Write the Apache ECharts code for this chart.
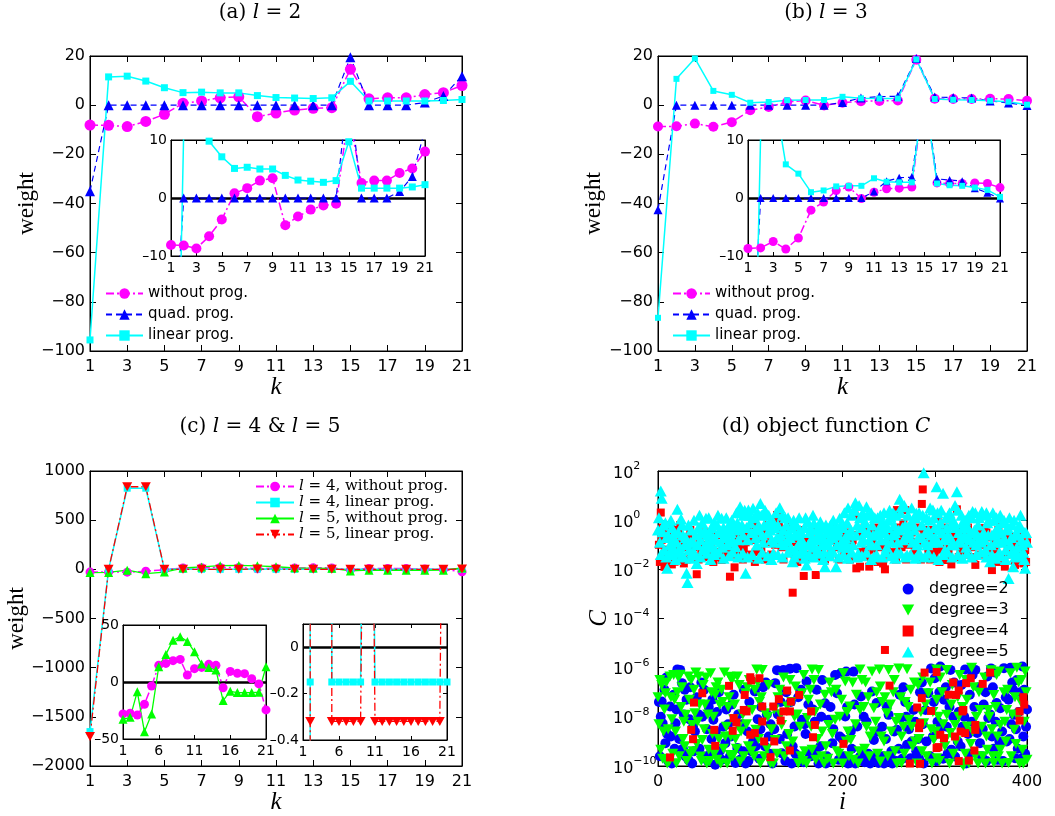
<!DOCTYPE html>
<html><head><meta charset="utf-8">
<script src="https://cdn.jsdelivr.net/npm/echarts@6/dist/echarts.min.js"></script>
<style>html,body{margin:0;padding:0;background:#fff}#c{width:1055px;height:816px}</style>
</head><body><div id="c"></div>
<script>
// ---------- data: panels (a)-(c), k = 1..21 ----------
const ks = [1,2,3,4,5,6,7,8,9,10,11,12,13,14,15,16,17,18,19,20,21];
const aWithout = [-8.1,-8.2,-8.7,-6.6,-3.7,0.8,1.7,3.0,3.4,-4.7,-3.2,-2.0,-1.3,-1.0,14.6,2.6,3.0,3.0,4.3,5.1,8.0];
const aQuad    = [-35,0,0,0,0,0,0,0,0,0,0,0,0,0,19.5,0,0,0,1.1,3.7,11.8];
const aLinear  = [-95.5,11.5,11.8,9.8,7.1,5.1,5.3,5.0,5.0,3.9,3.1,2.9,2.7,3.0,9.7,1.7,1.7,1.7,1.7,1.9,2.3];
const bWithout = [-8.7,-8.6,-7.5,-8.8,-6.9,-2.1,-0.7,1.3,1.9,-0.1,1.0,1.6,1.7,1.9,18.5,2.6,2.5,2.5,2.6,2.5,1.8];
const bQuad    = [-42.5,0,0,0,0,0,0,0,0,0,1.1,2.9,3.5,3.6,19.0,3.3,3.1,2.9,1.7,0.9,-0.1];
const bLinear  = [-86.5,10.7,19.0,5.8,4.2,1.0,1.3,2.0,2.1,2.1,3.4,2.8,2.7,2.7,18.6,2.5,2.2,2.1,1.8,1.4,0.2];
const cL4Without = [-28,-27.4,-29,-19.5,-3.5,14.6,16.3,18.7,19.8,6.1,11.7,12.8,15.5,14.6,-5,9.3,7.6,7.3,2.9,-1.7,-24.5];
const cL4Linear  = [-1650,-0.15,825,825,-0.15,-0.15,-0.15,-0.15,-0.15,3,-0.15,-0.15,-0.15,-0.15,-0.15,-0.15,-0.15,-0.15,-0.15,-0.15,-0.15];
const cL5Without = [-32.7,-31,-8.5,-43.7,-28,13.4,24.2,36.7,39.7,35.6,26.5,15.7,12.8,10.5,-16.3,-8.2,-9.3,-9.3,-9.3,-9,13.4];
const cL5Linear  = [-1700,-0.32,840,840,-0.32,-0.32,-0.32,-0.32,-0.32,3,-0.32,-0.32,-0.32,-0.32,-0.32,-0.32,-0.32,-0.32,-0.32,-0.32,3];

// ---------- data: panel (d), pairs [i, log10 C] ----------
const deg2LogC = [[1,-7.4],[2,-9.6],[3,-8.0],[4,-7.38],[5,-8.26],[7,-6.9],[8,-9.07],[9,-6.4],[10,-8.7],[11,-9.8],[13,-7.58],[14,-8.8],[15,-9.9],[17,-7.1],[18,-9.3],[19,-8.26],[20,-7.7],[21,-6.07],[23,-8.9],[24,-6.09],[26,-6.63],[27,-9.3],[28,-7.9],[29,-6.9],[30,-9.61],[31,-7.3],[33,-9.75],[34,-8.1],[35,-6.8],[37,-9.9],[38,-8.4],[39,-9.4],[40,-8.6],[42,-7.2],[44,-7.9],[45,-9.3],[47,-6.6],[48,-8.0],[50,-6.9],[51,-9.61],[53,-8.5],[54,-9.8],[55,-7.6],[57,-9.5],[58,-8.9],[59,-7.3],[60,-8.12],[62,-9.95],[63,-8.6],[64,-7.8],[66,-7.0],[67,-9.4],[69,-9.75],[71,-8.4],[73,-9.07],[74,-7.7],[76,-8.3],[78,-9.6],[79,-8.8],[80,-7.5],[82,-7.1],[84,-9.88],[86,-9.27],[87,-7.9],[89,-9.75],[91,-8.3],[92,-9.4],[93,-6.9],[95,-9.9],[97,-8.6],[98,-9.8],[99,-7.4],[101,-9.4],[103,-9.0],[105,-6.97],[106,-9.2],[108,-8.1],[110,-9.7],[111,-8.5],[112,-7.6],[114,-6.8],[116,-9.2],[117,-6.6],[118,-7.9],[120,-8.8],[121,-9.5],[122,-8.3],[124,-9.9],[126,-8.5],[127,-6.63],[129,-6.1],[130,-7.9],[132,-8.9],[133,-7.4],[134,-9.48],[136,-6.09],[138,-9.8],[139,-7.0],[140,-8.7],[143,-6.04],[144,-7.4],[145,-9.9],[146,-9.2],[148,-8.39],[149,-9.5],[150,-6.02],[152,-7.2],[153,-9.7],[155,-6.9],[156,-8.12],[158,-9.85],[159,-8.3],[160,-8.7],[161,-6.56],[163,-7.5],[164,-9.48],[166,-9.6],[168,-7.7],[170,-8.2],[171,-9.4],[172,-6.9],[174,-9.9],[176,-9.2],[177,-8.0],[178,-6.5],[181,-7.45],[182,-9.9],[183,-9.6],[185,-8.12],[187,-7.6],[189,-9.07],[190,-8.5],[192,-6.3],[194,-7.04],[196,-9.75],[197,-8.8],[198,-6.23],[200,-8.9],[201,-9.6],[203,-7.99],[204,-6.16],[205,-7.6],[206,-9.9],[208,-9.88],[209,-8.6],[210,-9.3],[212,-6.16],[213,-7.5],[214,-9.9],[216,-8.39],[217,-9.8],[219,-9.61],[220,-7.17],[222,-9.5],[223,-8.0],[224,-9.85],[226,-8.2],[227,-9.75],[228,-9.5],[230,-9.9],[232,-6.97],[233,-9.8],[234,-8.94],[236,-9.6],[237,-7.44],[238,-8.6],[239,-9.88],[241,-9.75],[243,-8.4],[244,-9.6],[245,-9.9],[247,-8.9],[248,-7.58],[250,-7.92],[252,-9.61],[253,-9.4],[254,-9.9],[256,-8.6],[258,-9.8],[259,-8.53],[261,-9.3],[262,-7.1],[263,-8.05],[265,-9.7],[266,-6.8],[268,-7.4],[269,-8.0],[270,-9.14],[272,-8.5],[274,-9.68],[275,-9.0],[277,-7.72],[279,-8.2],[280,-9.4],[282,-8.9],[283,-9.7],[284,-7.0],[286,-6.6],[287,-8.3],[288,-9.9],[290,-7.72],[291,-9.0],[293,-7.04],[295,-9.6],[296,-6.03],[298,-8.8],[299,-7.4],[300,-6.43],[302,-9.8],[303,-8.2],[305,-7.0],[306,-5.95],[307,-8.39],[309,-9.7],[310,-7.3],[312,-6.8],[313,-8.4],[314,-9.5],[316,-7.6],[317,-6.09],[318,-9.34],[320,-8.0],[321,-6.6],[322,-9.61],[325,-9.0],[326,-7.8],[328,-9.2],[329,-6.7],[330,-8.4],[332,-8.0],[333,-6.07],[334,-9.9],[336,-8.7],[337,-9.5],[338,-7.1],[340,-8.2],[341,-6.3],[343,-7.6],[344,-6.09],[346,-8.66],[348,-6.8],[349,-9.07],[351,-9.6],[352,-8.5],[353,-7.5],[355,-7.0],[356,-9.8],[357,-6.36],[358,-8.05],[360,-7.9],[361,-6.03],[362,-8.8],[363,-6.8],[364,-9.3],[365,-6.2],[366,-8.2],[367,-7.44],[368,-9.75],[370,-9.0],[371,-7.65],[373,-8.6],[374,-9.8],[375,-6.02],[377,-7.2],[378,-9.0],[380,-7.3],[381,-8.9],[382,-6.0],[383,-8.3],[384,-6.6],[385,-6.9],[386,-7.92],[387,-9.68],[388,-8.5],[389,-6.5],[390,-9.3],[391,-7.8],[393,-7.0],[394,-9.7],[395,-5.95],[396,-8.8],[397,-6.9],[398,-9.5],[399,-8.4],[400,-7.7]];
const deg3LogC = [[0,-7.2],[1,-8.3],[2,-6.5],[3,-9.34],[4,-6.7],[5,-9.7],[6,-8.6],[7,-7.7],[8,-7.04],[9,-6.6],[10,-9.9],[11,-8.5],[12,-9.82],[13,-6.36],[14,-7.2],[15,-8.1],[16,-9.5],[17,-6.3],[18,-7.31],[19,-8.6],[20,-9.89],[21,-7.0],[22,-6.4],[23,-9.6],[24,-6.29],[25,-7.6],[26,-6.8],[27,-8.9],[28,-8.2],[29,-9.2],[30,-7.92],[31,-9.8],[33,-6.36],[34,-7.3],[35,-9.5],[36,-6.5],[37,-8.33],[38,-9.4],[39,-6.9],[40,-7.85],[41,-6.2],[42,-9.1],[43,-8.2],[44,-6.36],[45,-7.5],[46,-9.61],[47,-9.8],[48,-8.94],[49,-6.7],[50,-8.5],[51,-7.5],[52,-6.4],[53,-9.9],[54,-7.9],[55,-9.34],[56,-9.8],[57,-6.23],[58,-7.0],[59,-8.7],[60,-8.0],[61,-9.5],[62,-7.1],[63,-6.8],[64,-9.75],[65,-6.6],[66,-8.9],[67,-7.51],[68,-9.9],[69,-6.9],[70,-7.4],[71,-9.3],[72,-6.2],[73,-8.8],[74,-8.4],[75,-9.9],[76,-7.6],[77,-7.2],[78,-9.55],[78,-6.37],[79,-8.8],[80,-6.5],[81,-9.6],[82,-8.1],[83,-7.5],[84,-8.9],[85,-9.3],[86,-6.36],[87,-8.39],[88,-6.7],[89,-9.82],[90,-8.6],[92,-7.9],[93,-9.6],[95,-7.04],[96,-8.3],[97,-6.8],[98,-9.2],[99,-6.5],[101,-9.4],[102,-7.72],[104,-9.6],[105,-6.9],[106,-8.53],[107,-6.07],[108,-6.6],[109,-8.9],[110,-7.4],[111,-9.89],[112,-7.2],[113,-6.09],[115,-9.6],[116,-7.85],[118,-9.3],[119,-8.0],[120,-6.7],[122,-9.9],[123,-8.5],[125,-9.9],[126,-7.7],[127,-8.94],[129,-9.5],[130,-7.2],[132,-6.9],[133,-7.9],[134,-8.33],[136,-6.4],[137,-9.6],[139,-9.2],[140,-7.58],[142,-8.7],[143,-6.5],[145,-7.4],[146,-9.0],[148,-8.0],[149,-6.77],[151,-7.9],[152,-9.89],[154,-8.4],[155,-9.6],[156,-7.04],[157,-9.8],[158,-6.3],[159,-9.4],[161,-9.9],[162,-8.05],[163,-7.3],[165,-6.9],[166,-8.4],[167,-6.07],[167,-9.34],[169,-6.5],[170,-7.8],[171,-9.75],[173,-8.9],[174,-6.09],[176,-7.5],[177,-9.6],[178,-8.6],[180,-9.9],[181,-7.1],[182,-9.2],[184,-9.7],[185,-8.33],[186,-6.6],[188,-7.0],[189,-8.7],[190,-9.9],[192,-8.12],[193,-6.9],[194,-9.4],[196,-9.5],[197,-8.0],[199,-7.31],[200,-9.9],[201,-6.23],[203,-6.56],[204,-9.0],[205,-7.8],[206,-8.6],[207,-9.6],[208,-7.58],[209,-8.94],[211,-6.6],[212,-9.75],[214,-8.3],[215,-7.1],[217,-9.9],[218,-9.4],[219,-7.72],[219,-6.07],[221,-6.5],[223,-7.6],[224,-9.3],[225,-6.6],[226,-8.4],[228,-7.2],[229,-9.6],[230,-8.8],[232,-6.16],[233,-8.6],[234,-7.65],[236,-8.2],[237,-7.0],[238,-9.5],[240,-6.07],[241,-6.77],[241,-9.82],[242,-8.8],[243,-7.4],[245,-9.0],[246,-7.2],[248,-7.85],[249,-9.6],[250,-6.09],[252,-7.5],[253,-8.6],[255,-7.0],[256,-6.5],[257,-9.4],[258,-8.2],[259,-9.9],[261,-6.03],[261,-8.05],[263,-7.2],[264,-8.8],[264,-9.88],[266,-8.4],[267,-9.5],[268,-7.4],[270,-6.06],[271,-7.6],[272,-8.12],[274,-6.9],[275,-8.4],[276,-9.2],[278,-6.6],[279,-9.0],[281,-9.9],[282,-6.7],[283,-8.9],[285,-7.8],[286,-9.4],[287,-6.4],[288,-8.26],[290,-7.5],[291,-9.6],[293,-7.04],[295,-6.6],[296,-8.5],[297,-9.9],[298,-7.8],[299,-8.94],[301,-8.6],[302,-7.31],[302,-6.07],[302,-9.68],[304,-8.0],[305,-9.8],[306,-6.4],[308,-7.0],[309,-8.3],[311,-9.2],[312,-8.9],[313,-6.09],[313,-7.92],[316,-9.9],[317,-8.66],[318,-7.5],[319,-6.7],[320,-9.5],[322,-8.33],[323,-9.0],[325,-7.2],[326,-8.0],[327,-6.3],[329,-9.9],[330,-7.6],[331,-10.0],[333,-9.5],[334,-6.5],[335,-7.31],[335,-8.39],[337,-9.9],[339,-9.1],[340,-6.0],[341,-8.6],[342,-6.8],[344,-9.6],[345,-8.0],[347,-9.9],[348,-7.0],[349,-7.72],[351,-8.4],[352,-9.6],[354,-6.4],[355,-9.9],[356,-8.8],[357,-9.34],[358,-7.72],[359,-8.0],[361,-6.1],[362,-8.5],[363,-9.6],[364,-7.11],[364,-9.88],[366,-7.6],[367,-6.3],[368,-8.8],[369,-9.6],[370,-6.16],[371,-8.33],[371,-9.34],[373,-9.9],[375,-7.0],[376,-8.2],[377,-9.0],[378,-7.72],[379,-6.9],[380,-9.88],[382,-6.23],[383,-9.6],[384,-7.9],[386,-8.53],[387,-7.2],[388,-9.1],[389,-6.0],[390,-8.0],[391,-6.6],[392,-9.9],[393,-7.38],[394,-6.5],[395,-9.34],[396,-9.9],[397,-8.2],[398,-6.16],[399,-7.0],[400,-9.75]];
const deg4LowLogC = [[13,-9.65],[36,-8.53],[38,-8.91],[39,-7.42],[48,-7.04],[61,-8.53],[62,-9.18],[77,-6.74],[81,-8.57],[82,-8.05],[85,-8.23],[93,-7.72],[94,-7.11],[96,-7.78],[100,-6.39],[100,-8.73],[101,-6.52],[105,-8.66],[110,-6.43],[113,-8.19],[113,-7.58],[115,-9.0],[122,-9.64],[125,-7.58],[126,-9.0],[131,-7.28],[133,-8.15],[136,-7.78],[140,-6.93],[143,-9.37],[143,-7.78],[144,-7.38],[153,-7.11],[166,-7.78],[168,-8.83],[170,-8.33],[201,-9.1],[246,-5.28],[251,-6.73],[273,-9.9],[281,-7.62],[283,-8.46],[284,-8.26],[284,-9.91],[286,-7.24],[289,-6.2],[296,-7.76],[302,-6.18],[302,-9.27],[304,-9.23],[306,-8.73],[310,-8.87],[315,-7.1],[320,-6.6],[322,-8.8],[323,-7.11],[326,-6.93],[326,-9.8],[328,-8.6],[330,-7.78],[331,-7.72],[333,-8.66],[334,-6.63],[337,-9.78],[339,-6.43],[343,-9.37],[344,-8.33],[344,-8.53],[352,-6.66],[360,-6.2],[392,-7.78],[392,-8.15],[396,-7.2],[397,-7.5]];
const deg4HighLogC = [[1,-1.0],[2,-1.7],[3,0.31],[4,-0.8],[5,-0.3],[6,-1.62],[7,-1.9],[8,-1.2],[9,-1.5],[10,-0.6],[11,-0.2],[12,-1.69],[14,-0.3],[15,-1.8],[16,-1.4],[18,-1.69],[19,-1.2],[20,-0.9],[22,-0.4],[24,-0.2],[25,-1.5],[27,-1.0],[28,-1.76],[30,-1.1],[31,-1.6],[33,-0.7],[35,-0.4],[36,-1.3],[38,-1.1],[40,-1.55],[42,-2.2],[44,-1.6],[45,-0.9],[47,-1.3],[49,-1.46],[51,-1.0],[52,-0.5],[54,-1.5],[55,-1.1],[57,-0.9],[58,-1.46],[60,-1.7],[61,-0.8],[63,-0.6],[64,-1.3],[66,-1.5],[67,-0.6],[69,-1.62],[70,-1.21],[72,-1.3],[73,-0.9],[75,-0.4],[76,-1.35],[78,-2.3],[79,-1.1],[80,-1.0],[83,-1.92],[85,-1.4],[86,-0.7],[88,-1.0],[90,-0.35],[92,-1.6],[93,-1.1],[95,-0.9],[96,-0.5],[98,-1.4],[100,-0.67],[102,-0.8],[103,-0.2],[105,-1.7],[106,-1.3],[108,-0.5],[110,-0.75],[112,-1.2],[114,-0.4],[116,-1.6],[118,-1.48],[120,-0.2],[121,-0.9],[123,-1.4],[125,-0.3],[127,-1.0],[129,0.21],[131,-0.1],[133,-0.4],[134,-1.1],[136,-1.6],[137,-0.5],[139,-1.0],[140,-0.67],[142,-0.2],[143,-1.3],[146,-2.95],[148,-1.4],[149,-0.9],[151,-1.7],[152,-0.4],[154,-0.7],[155,-1.2],[157,-1.0],[158,-2.27],[160,-1.5],[162,-0.8],[164,-0.9],[166,-1.4],[168,-0.3],[171,-2.23],[173,-1.5],[174,-0.6],[177,-0.9],[178,-1.2],[181,-1.6],[182,-0.9],[184,-0.6],[186,-1.5],[188,-1.3],[190,-0.26],[192,-0.8],[194,-1.1],[196,-1.6],[198,-0.7],[200,-0.5],[202,-1.3],[204,-1.0],[206,-0.5],[208,-1.6],[210,-1.0],[211,-0.8],[213,0.2],[215,-1.96],[217,-0.6],[219,-1.89],[220,-1.3],[222,-0.4],[224,-0.3],[225,-1.2],[227,-1.5],[229,-1.89],[231,-0.5],[232,-0.8],[234,-1.2],[236,-0.3],[238,-1.7],[240,-1.1],[242,-0.5],[244,-1.76],[246,-2.0],[248,-1.01],[250,-1.4],[252,-0.5],[254,-0.9],[256,-1.3],[258,-1.6],[259,0.41],[261,-0.3],[262,-0.7],[264,-1.1],[266,-0.13],[268,0.41],[269,-1.6],[271,-1.0],[273,-0.8],[275,-0.5],[277,-1.4],[279,-1.2],[281,-0.9],[282,-0.3],[284,-0.94],[285,-1.6],[286,0.66],[287,1.25],[288,-0.4],[290,-0.8],[292,-1.0],[293,-1.3],[295,-1.6],[296,-0.4],[298,-0.7],[300,-1.35],[302,-1.1],[303,0.1],[305,-1.7],[306,-0.9],[308,-1.2],[309,-0.5],[311,-0.3],[313,-1.62],[315,-1.3],[316,-1.0],[318,-1.8],[320,-0.6],[322,-0.9],[324,0.44],[326,-1.5],[328,-1.2],[330,-0.4],[332,-0.8],[334,-1.4],[336,-0.3],[338,-0.7],[340,-1.1],[342,-1.5],[344,-1.82],[346,-0.9],[347,-0.5],[349,-1.4],[351,-0.33],[353,-1.0],[354,-0.33],[356,-0.5],[357,-1.3],[359,-1.5],[360,-0.7],[362,-2.03],[364,-1.2],[366,-1.0],[368,-1.7],[369,-0.4],[371,-1.62],[372,-0.13],[374,-0.9],[376,-1.89],[378,-1.4],[379,-1.0],[381,-0.67],[383,-0.8],[384,-1.3],[386,-1.1],[387,-1.82],[389,-1.6],[390,-0.8],[392,-0.5],[393,-1.1],[395,-1.4],[396,-1.76],[398,-1.21],[399,-1.7],[400,-0.9]];
const deg5LogC = [[0,-0.4],[1,0.1],[2,-0.9],[3,1.19],[4,0.89],[5,-0.47],[6,-0.2],[7,-1.2],[8,-0.1],[9,-0.7],[10,-1.96],[11,-0.6],[12,-1.4],[13,-1.0],[14,0.0],[15,-0.3],[16,-1.1],[17,-0.8],[18,-0.5],[19,-1.3],[20,-0.9],[21,0.44],[22,-0.5],[23,-1.3],[24,-1.1],[25,0.05],[26,-0.2],[27,-0.6],[28,-1.5],[29,-1.0],[30,-0.7],[31,-2.16],[32,-2.54],[33,-0.2],[34,-1.2],[35,-0.9],[36,-0.4],[37,-1.3],[38,-0.9],[39,0.0],[40,-1.4],[41,-0.6],[42,-1.76],[43,-1.0],[44,-0.3],[45,0.2],[46,-0.8],[47,-0.5],[48,-0.1],[49,-1.2],[50,-1.1],[51,-0.4],[52,0.08],[53,-0.9],[54,-0.6],[55,0.1],[56,-1.0],[57,-0.6],[58,-0.3],[59,-1.1],[60,-0.7],[61,-0.1],[62,-1.2],[63,-0.8],[64,-0.2],[65,0.2],[66,-0.5],[67,-0.4],[68,-0.9],[69,0.08],[70,-1.1],[71,-0.3],[72,-0.7],[73,-0.6],[74,0.1],[75,-1.0],[76,-0.5],[77,-0.2],[78,-0.9],[79,-0.5],[80,0.0],[81,-0.8],[82,-0.3],[84,-1.08],[85,0.3],[86,-0.1],[87,-0.8],[88,-0.4],[89,0.55],[90,0.3],[91,-0.2],[92,-0.6],[93,0.2],[94,0.4],[95,-2.16],[96,-0.3],[97,-0.8],[98,0.41],[99,0.2],[100,-0.1],[101,-0.5],[103,0.48],[104,0.1],[105,-0.4],[106,-0.7],[107,-1.01],[108,0.3],[109,-0.2],[110,-0.4],[111,0.68],[112,0.2],[113,-0.6],[114,-0.9],[115,-0.2],[116,0.4],[117,0.3],[118,-0.2],[119,-0.5],[120,0.2],[121,-0.1],[122,-0.4],[123,-0.8],[124,0.0],[125,-1.35],[126,-0.9],[127,-0.3],[128,0.3],[129,-0.7],[130,-0.2],[132,0.51],[133,-0.6],[134,-0.9],[135,0.2],[136,-0.4],[137,-1.0],[138,0.1],[139,-0.2],[140,-0.85],[141,0.1],[142,-0.5],[143,-0.7],[144,-1.1],[145,-0.3],[146,-1.69],[147,0.0],[148,-0.6],[149,-1.2],[150,-0.2],[151,-0.6],[152,-1.0],[153,0.1],[154,-0.4],[155,-0.5],[156,-0.8],[157,-1.0],[158,-1.2],[159,-0.3],[160,0.1],[161,-1.82],[162,-0.06],[163,-1.0],[164,-0.5],[165,-0.3],[166,-0.9],[167,-0.7],[168,0.2],[169,-0.13],[170,-1.1],[171,-0.8],[172,-0.4],[173,-1.2],[174,-0.7],[175,-0.5],[176,-0.06],[177,-0.3],[178,-1.0],[179,-0.7],[180,-1.3],[181,-1.89],[182,-0.2],[183,-0.5],[184,-1.0],[185,-0.8],[186,-0.5],[187,-0.2],[188,-1.2],[189,-0.7],[190,0.0],[191,-0.6],[192,-0.3],[193,-1.89],[194,-1.0],[195,-0.4],[196,-0.6],[197,0.08],[198,-0.2],[199,-0.9],[200,-1.1],[201,-0.3],[202,0.3],[203,-0.7],[204,-1.0],[205,-0.1],[206,0.5],[207,-1.1],[208,-0.6],[209,-0.4],[210,0.2],[211,-1.0],[212,0.41],[213,0.4],[214,0.71],[215,-0.6],[216,-0.2],[217,-1.35],[218,0.6],[219,0.1],[220,-0.9],[221,-0.3],[222,0.3],[223,-0.8],[224,-0.5],[225,-0.1],[226,0.55],[227,0.2],[228,-0.5],[229,-0.8],[230,-1.0],[231,0.3],[232,-0.2],[233,-0.6],[234,-1.48],[235,0.1],[236,-0.6],[237,-1.0],[238,0.1],[239,-0.5],[240,-0.3],[241,0.2],[242,-0.8],[243,-0.4],[244,-0.1],[245,0.3],[246,-0.5],[247,-0.8],[248,-1.1],[249,-0.3],[250,0.0],[251,0.4],[252,0.14],[253,-0.9],[254,-0.6],[255,0.3],[256,-0.2],[257,-0.5],[258,0.2],[259,-1.28],[260,-0.9],[261,-0.4],[262,0.85],[263,0.3],[264,0.55],[265,-0.3],[266,-0.8],[267,0.6],[268,-0.2],[269,-0.6],[270,-1.42],[271,0.2],[272,-0.5],[273,-0.7],[274,-0.1],[275,0.5],[276,-0.9],[277,-0.2],[278,-0.4],[279,0.1],[280,0.28],[281,-1.0],[282,-0.7],[283,0.3],[284,-1.42],[285,-0.7],[286,-0.2],[287,0.2],[288,1.93],[289,-0.9],[290,-0.5],[291,0.1],[292,-1.0],[293,-0.4],[294,0.0],[295,0.5],[296,-0.6],[297,-0.9],[298,0.41],[299,0.1],[300,-0.3],[301,-0.7],[302,1.36],[303,0.3],[304,-0.9],[305,-0.4],[306,-0.1],[307,0.4],[308,-0.5],[309,1.09],[310,-0.8],[311,-1.2],[312,0.1],[313,-0.3],[314,-0.6],[315,0.2],[316,0.3],[317,-0.7],[318,-1.0],[319,-0.2],[320,0.0],[321,-1.0],[322,0.6],[323,-0.3],[324,1.16],[325,0.4],[326,-0.5],[327,-0.8],[328,-0.9],[329,0.2],[330,-0.1],[331,-0.3],[332,-0.6],[333,0.0],[334,-1.1],[335,-0.7],[336,-0.3],[337,0.2],[338,-0.8],[339,-0.5],[340,0.1],[341,0.35],[342,-0.9],[343,-0.4],[344,0.3],[345,-1.0],[346,-0.6],[347,-0.2],[348,0.1],[349,-0.7],[350,-0.9],[351,0.35],[352,0.2],[353,-0.5],[354,-0.8],[355,-1.2],[356,0.3],[357,-0.1],[358,-0.6],[359,0.0],[360,-1.69],[361,-1.0],[362,-0.6],[363,0.3],[364,0.0],[365,-0.5],[366,-0.9],[367,0.1],[368,-0.3],[369,-0.8],[370,-1.3],[371,0.2],[372,-0.5],[373,-0.9],[374,-0.1],[375,0.0],[376,-0.8],[377,-1.2],[378,-0.4],[379,-0.3],[380,-2.37],[381,0.1],[382,-1.0],[383,-0.7],[384,-0.2],[385,-1.89],[386,0.0],[387,-0.6],[388,-1.3],[389,-1.1],[390,-0.6],[391,-0.3],[392,-0.2],[393,0.2],[394,-0.8],[395,-1.0],[396,-1.3],[397,-0.5],[398,-1.96],[399,-0.5],[400,-0.9],
  [3,-1.4],[9,-1.5],[15,-1.3],[19,-1.6],[26,-1.45],[35,-1.55],[39,-1.3],[46,-1.5],[53,-1.35],[57,-1.6],[61,-1.4],[66,-1.3],[71,-1.55],[77,-1.45],[81,-1.3],[87,-1.5],[92,-1.35],[97,-1.5],[102,-1.4],[109,-1.55],[113,-1.3],[119,-1.45],[123,-1.6],[130,-1.4],[135,-1.5],[141,-1.3],[148,-1.5],[154,-1.35],[159,-1.55],[164,-1.4],[169,-1.5],[175,-1.35],[179,-1.6],[186,-1.45],[190,-1.3],[196,-1.5],[201,-1.4],[206,-1.55],[210,-1.3],[216,-1.5],[221,-1.45],[226,-1.3],[231,-1.6],[237,-1.4],[243,-1.5],[247,-1.3],[253,-1.45],[257,-1.55],[263,-1.35],[268,-1.5],[274,-1.4],[279,-1.55],[283,-1.3],[289,-1.5],[293,-1.35],[299,-1.5],[304,-1.6],[309,-1.4],[314,-1.3],[319,-1.5],[325,-1.4],[330,-1.55],[335,-1.35],[340,-1.5],[345,-1.4],[350,-1.3],[356,-1.5],[362,-1.4],[366,-1.55],[372,-1.45],[377,-1.6],[383,-1.35],[387,-1.5],[393,-1.45],[397,-1.6]];

// ---------- styling ----------
const SANS = 'DejaVu Sans', SERIF = 'DejaVu Serif', SERIF2 = 'Liberation Serif';
const DOWN = 'path://M0,0L10,0L5,9Z';
const UP = 'path://M5,0L10,9L0,9Z';
const SQUARE = 'path://M0,0L10,0L10,10L0,10Z';
const fmtNum = v => String(Math.round(v * 1e6) / 1e6).replace('-', '\u2212');
const fmtDash = v => String(Math.round(v * 1e6) / 1e6).replace('-', '\u2013');
const stW  = {symbol:'circle',   color:'#ff00ff', lw:1.5, dash:[8,3,2,3]};
const stQ  = {symbol:'triangle', color:'#0000ff', lw:1.2, dash:[6,4]};
const stL  = {symbol:'rect',     color:'#00ffff', lw:1.5, dash:'solid'};
const stG  = {symbol:'triangle', color:'#00ff00', lw:1.3, dash:'solid'};
const stR  = {symbol:DOWN,       color:'#ff0000', lw:1.3, dash:[8,3,2,3]};

const grids = [], xAxes = [], yAxes = [], series = [];

function panel(rect, xc, yc, opt) {
  const z = opt.z, gi = grids.length;
  grids.push({left:rect[0], top:rect[1], width:rect[2], height:rect[3], show:true,
    backgroundColor:'#fff', borderColor:'#000', borderWidth:1, z:z, containLabel:false, outerBoundsMode:'none'});
  const tick = {show:true, inside:true, length:opt.tick, lineStyle:{color:'#000', width:1}};
  const line = {show:true, onZero:false, lineStyle:{color:'#000', width:1}};
  function ax(pos, c, label, nm) {
    const a = {gridIndex:gi, position:pos, z:z+1, type:c.type || 'value', min:c.min, max:c.max,
      axisLine:line, axisTick:tick, splitLine:{show:false}, minorTick:{show:false}, axisLabel:label, nameMoveOverlap:false};
    if (c.type === 'log') a.logBase = c.logBase; else a.interval = c.interval;
    if (nm) Object.assign(a, nm);
    return a;
  }
  const lab = (m) => ({show:true, color:'#000', fontFamily:SANS, fontSize:opt.fs, margin:m, formatter:opt.fmt || fmtNum, hideOverlap:false});
  const xi = xAxes.length, yi = yAxes.length;
  xAxes.push(ax('bottom', xc, lab(opt.xm), opt.xName));
  xAxes.push(ax('top', xc, {show:false}));
  yAxes.push(ax('left', yc, Object.assign(lab(opt.ym), yc.label || {}), opt.yName));
  yAxes.push(ax('right', yc, {show:false}));
  return {xi, yi, z};
}

function mkLine(name, vals, P, st, size, zero) {
  const s = {type:'line', name, xAxisIndex:P.xi, yAxisIndex:P.yi,
    data: ks.map((k, j) => [k, vals[j]]), symbol:st.symbol, symbolSize:size,
    showSymbol:true, showAllSymbol:true, z:P.z + 3, clip:true,
    itemStyle:{color:st.color, borderWidth:0}, lineStyle:{color:st.color, width:st.lw, type:st.dash},
    emphasis:{disabled:true}, animation:false};
  if (zero) s.markLine = {silent:true, symbol:'none', z:P.z + 2, label:{show:false},
    lineStyle:{color:'#000', width:2.5, type:'solid'}, emphasis:{disabled:true}, data:[{yAxis:0}], animation:false};
  return s;
}

const kName = gap => ({name:'k', nameLocation:'middle', nameGap:gap,
  nameTextStyle:{fontFamily:SERIF2, fontStyle:'italic', fontSize:25, color:'#000'}});
const wName = gap => ({name:'weight', nameLocation:'middle', nameGap:gap, nameRotate:90,
  nameTextStyle:{fontFamily:SERIF2, fontSize:23, color:'#000'}});
const mainOpt = (xg, yg) => ({z:0, tick:6, fs:16, xm:8, ym:5, xName:kName(xg), yName:wName(yg)});
const insetOpt = {z:10, tick:4, fs:14, xm:5, ym:4, fmt:fmtDash};

// (a)
const A = panel([90,56,372,295], {min:1,max:21,interval:2}, {min:-100,max:20,interval:20}, mainOpt(24,52));
series.push(mkLine('without prog.', aWithout, A, stW, 11));
series.push(mkLine('quad. prog.', aQuad, A, stQ, 10));
series.push(mkLine('linear prog.', aLinear, A, stL, 7));
const AI = panel([171,140,254,116], {min:1,max:21,interval:2}, {min:-10,max:10,interval:10}, insetOpt);
series.push(mkLine('without prog.', aWithout, AI, stW, 10, true));
series.push(mkLine('quad. prog.', aQuad, AI, stQ, 9));
series.push(mkLine('linear prog.', aLinear, AI, stL, 7));

// (b)
const B = panel([658,56,369,295], {min:1,max:21,interval:2}, {min:-100,max:20,interval:20}, mainOpt(24,53));
series.push(mkLine('without prog.', bWithout, B, stW, 10));
series.push(mkLine('quad. prog.', bQuad, B, stQ, 9));
series.push(mkLine('linear prog.', bLinear, B, stL, 6));
const BI = panel([748,140,252,116], {min:1,max:21,interval:2}, {min:-10,max:10,interval:10}, insetOpt);
series.push(mkLine('without prog.', bWithout, BI, stW, 9, true));
series.push(mkLine('quad. prog.', bQuad, BI, stQ, 8));
series.push(mkLine('linear prog.', bLinear, BI, stL, 6));

// (c)
const C = panel([90,471,372,295], {min:1,max:21,interval:2}, {min:-2000,max:1000,interval:500}, mainOpt(24,62));
series.push(mkLine('l4w', cL4Without, C, stW, 9));
series.push(mkLine('l4l', cL4Linear, C, stL, 7));
series.push(mkLine('l5w', cL5Without, C, stG, 9));
series.push(mkLine('l5l', cL5Linear, C, stR, [10,9]));
const CL = panel([123,625,143,114], {min:1,max:21,interval:5}, {min:-50,max:50,interval:50}, insetOpt);
series.push(mkLine('l4w', cL4Without, CL, stW, 9, true));
series.push(mkLine('l5w', cL5Without, CL, stG, 9));
const CR = panel([303,624,144,116], {min:1,max:21,interval:5},
  {min:-0.4,max:0.1,interval:0.2, label:{showMaxLabel:false}}, insetOpt);
series.push(mkLine('l4l', cL4Linear, CR, stL, 7, true));
series.push(mkLine('l5l', cL5Linear, CR, stR, [10,9]));

// (d)
const supFmt = v => { const e = Math.round(Math.log10(v)); return '{b|10}{s|' + String(e).replace('-', '\u2212') + '}'; };
const D = panel([658,471,369,295], {min:0,max:400,interval:100},
  {type:'log', logBase:100, min:1e-10, max:100,
   label:{formatter:supFmt, align:'left', margin:45,
     rich:{b:{fontFamily:SANS, fontSize:16, color:'#000', lineHeight:21, verticalAlign:'bottom'},
           s:{fontFamily:SANS, fontSize:11, color:'#000', verticalAlign:'top'}}}},
  {z:0, tick:6, fs:16, xm:8, ym:45,
   xName:{name:'i', nameLocation:'middle', nameGap:24, nameTextStyle:{fontFamily:SERIF2, fontStyle:'italic', fontSize:25, color:'#000'}},
   yName:{name:'C', nameLocation:'middle', nameGap:46, nameRotate:90, nameTextStyle:{fontFamily:SERIF2, fontStyle:'italic', fontSize:25, color:'#000'}}});
const toC = arr => arr.map(p => [p[0], Math.pow(10, p[1])]);
function mkScatter(name, data, symbol, size, color) {
  return {type:'scatter', name, xAxisIndex:D.xi, yAxisIndex:D.yi, data, symbol, symbolSize:size,
    itemStyle:{color, opacity:1}, z:2, emphasis:{disabled:true}, animation:false, clip:true};
}
series.push(mkScatter('degree=2', toC(deg2LogC), 'circle', 10, '#0000ff'));
series.push(mkScatter('degree=3', toC(deg3LogC), DOWN, [11,10], '#00ff00'));
series.push(mkScatter('degree=4', toC(deg4LowLogC.concat(deg4HighLogC)), SQUARE, 8, '#ff0000'));
series.push(mkScatter('degree=5', toC(deg5LogC), UP, [12,11], '#00ffff'));

// ---------- titles & legends ----------
const tStyle = {fontFamily:SERIF, fontSize:20, fontWeight:'normal', color:'#000',
  rich:{i:{fontFamily:SERIF, fontStyle:'italic', fontSize:20, color:'#000'}}};
const titles = [
  {text:'(a) {i|l} = 2', left:260, top:3},
  {text:'(b) {i|l} = 3', left:826, top:3},
  {text:'(c) {i|l} = 4 & {i|l} = 5', left:260, top:417},
  {text:'(d) object function {i|C}', left:826, top:417}
].map(t => Object.assign(t, {textAlign:'center', padding:0, textStyle:tStyle}));

const cNames = {l4w:'{i|l} = 4, without prog.', l4l:'{i|l} = 4, linear prog.', l5w:'{i|l} = 5, without prog.', l5l:'{i|l} = 5, linear prog.'};
const abLegend = left => ({data:['without prog.','quad. prog.','linear prog.'], left, top:286, orient:'vertical', padding:0,
  itemWidth:37, itemHeight:13, itemGap:6, selectedMode:false, textStyle:{fontFamily:SANS, fontSize:15, color:'#000'}});
const legends = [
  abLegend(105), abLegend(672),
  {data:['l4w','l4l','l5w','l5l'], left:255, top:479, orient:'vertical', padding:0, itemWidth:38, itemHeight:12, itemGap:1,
   selectedMode:false, formatter: n => cNames[n],
   textStyle:{fontFamily:SERIF, fontSize:15, color:'#000', rich:{i:{fontFamily:SERIF, fontStyle:'italic', fontSize:15, color:'#000'}}}},
  {data:['degree=2','degree=3','degree=4','degree=5'], left:902, top:581, orient:'vertical', padding:0, itemWidth:32, itemHeight:11, itemGap:5,
   selectedMode:false, textStyle:{fontFamily:SANS, fontSize:16, color:'#000'}}
];

const chart = echarts.init(document.getElementById('c'), null, {renderer:'canvas'});
chart.setOption({animation:false, backgroundColor:'#fff', title:titles, legend:legends,
  grid:grids, xAxis:xAxes, yAxis:yAxes, series:series, tooltip:{show:false}});
</script></body></html>
